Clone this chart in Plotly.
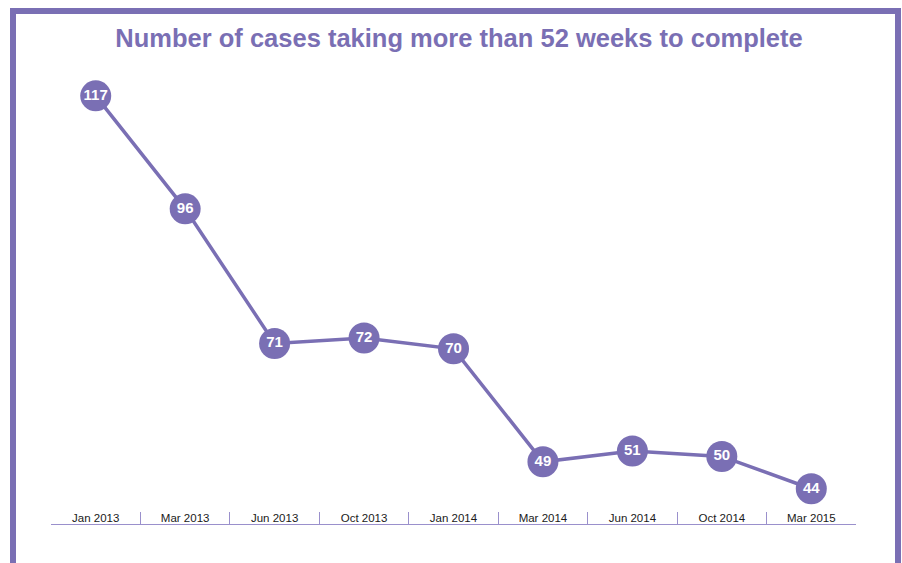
import plotly.graph_objects as go

categories = ["Jan 2013", "Mar 2013", "Jun 2013", "Oct 2013", "Jan 2014",
              "Mar 2014", "Jun 2014", "Oct 2014", "Mar 2015"]
cases = [117, 96, 71, 72, 70, 49, 51, 50, 44]

PURPLE = "#7A6FB4"
AXIS = "#9A90CC"
FONT = "Arial, Liberation Sans, sans-serif"

W, H = 902, 563
L, R, T, B = 51, 46, 70, 39
PW, PH = W - L - R, H - T - B

fig = go.Figure()
fig.add_trace(go.Scatter(
    x=categories, y=cases,
    mode="lines+markers+text",
    line=dict(color=PURPLE, width=3.5),
    marker=dict(color=PURPLE, size=31, line=dict(width=0)),
    text=[str(v) for v in cases],
    textposition="middle center",
    textfont=dict(family=FONT, size=15, color="white", weight="bold"),
    cliponaxis=False,
    hoverinfo="x+y",
    showlegend=False,
))

fig.update_layout(
    width=W, height=H,
    margin=dict(l=L, r=R, t=T, b=B, autoexpand=False),
    paper_bgcolor="white", plot_bgcolor="white",
    title=dict(
        text="<b>Number of cases taking more than 52 weeks to complete</b>",
        x=459 / W, xanchor="center", y=1 - 38 / H, yanchor="middle",
        font=dict(family=FONT, size=25.5, color=PURPLE),
    ),
    xaxis=dict(
        type="category", showgrid=False, zeroline=False,
        showline=True, linecolor=AXIS, linewidth=1,
        ticks="inside", tickson="boundaries", ticklen=12, tickcolor=AXIS, tickwidth=1,
        ticklabelposition="inside", ticklabelstandoff=-13,
        tickfont=dict(family=FONT, size=11.5, color="#1a1a1a"),
        range=[-0.5, 8.5],
    ),
    yaxis=dict(visible=False, range=[37.45, 121.8], showgrid=False, zeroline=False),
    shapes=[dict(
        type="rect", xref="paper", yref="paper",
        x0=(13 - L) / PW, x1=(898 - L) / PW,
        y0=((H - B) - 600) / PH, y1=((H - B) - 11) / PH,
        line=dict(color=PURPLE, width=6), fillcolor="rgba(0,0,0,0)", layer="below",
    )],
)

fig.write_html(
    "out.html",
    config={"displayModeBar": False},
    post_script="document.body.style.margin='0';document.body.style.overflow='hidden';",
)
